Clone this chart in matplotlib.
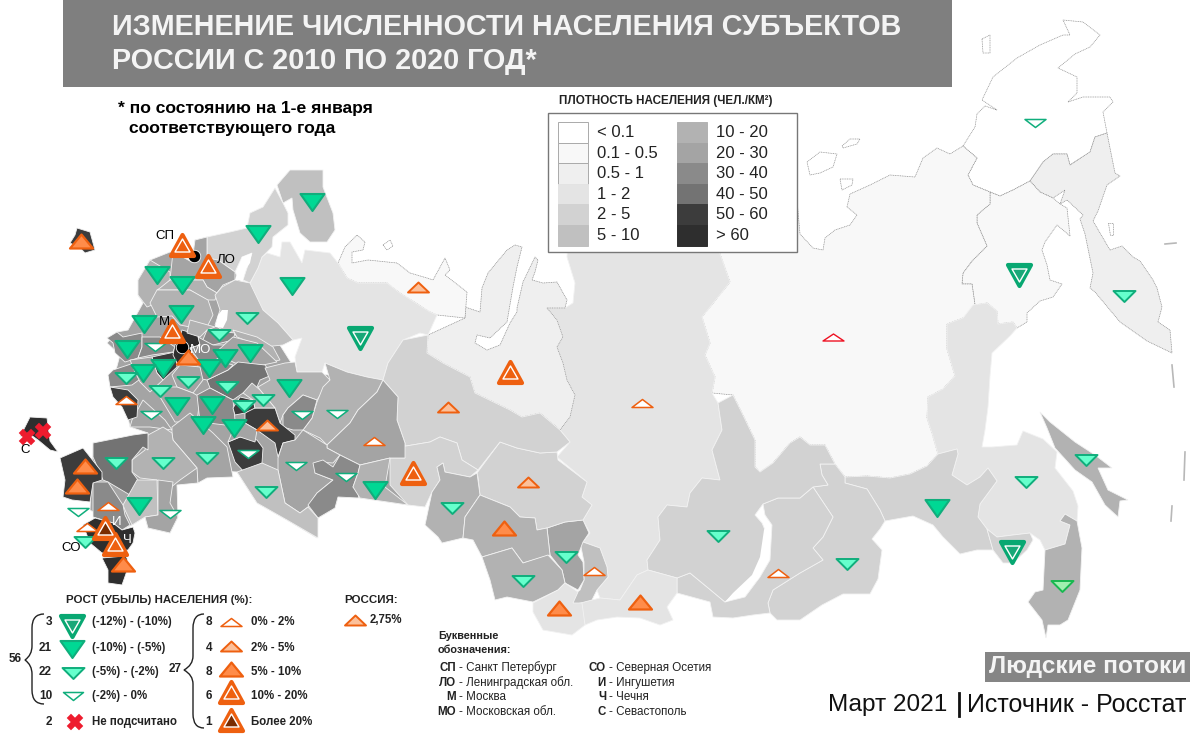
import matplotlib.pyplot as plt
from matplotlib.markers import MarkerStyle
from matplotlib.patches import Polygon, PathPatch, Rectangle
from matplotlib.path import Path

plt.rcParams['font.family'] = ['Liberation Sans', 'DejaVu Sans']

# grey for every density class, lightest to darkest
density_labels = ['< 0.1', '0.1 - 0.5', '0.5 - 1', '1 - 2', '2 - 5', '5 - 10',
                  '10 - 20', '20 - 30', '30 - 40', '40 - 50', '50 - 60', '> 60']
density_colors = ['#ffffff', '#f8f8f8', '#efefef', '#e4e4e4', '#d2d2d2', '#c0c0c0',
                  '#b2b2b2', '#a4a4a4', '#8a8a8a', '#737373', '#3c3c3c', '#2e2e2e']

chukotka = [(963,146),(975,127),(977,114),(985,106),(997,110),(982,100),(993,77),(1017,58),(1040,45),(1063,35),(1070,35),(1063,20),(1083,22),(1100,35),(1090,47),(1075,54),(1058,68),(1077,77),(1077,93),(1068,102),(1083,97),(1110,97),(1113,102),(1103,112),(1107,133),(1095,137),(1090,152),(1070,165),(1067,154),(1053,154),(1043,162),(1030,181),(1013,190),(1000,196),(990,192),(973,185),(968,175),(977,158)]
kamchatka = [(1030,181),(1043,162),(1053,154),(1067,154),(1070,165),(1090,152),(1095,137),(1107,133),(1115,173),(1120,176),(1107,185),(1098,211),(1093,221),(1110,250),(1122,246),(1133,257),(1140,261),(1153,280),(1157,288),(1162,307),(1158,322),(1170,330),(1172,353),(1147,341),(1120,322),(1095,292),(1090,288),(1093,273),(1085,234),(1080,219),(1083,215),(1067,200),(1060,204),(1065,190),(1053,198),(1040,192)]
magadan = [(990,192),(1000,196),(1013,190),(1030,181),(1040,192),(1053,198),(1060,204),(1067,208),(1070,236),(1057,225),(1045,242),(1042,250),(1047,265),(1050,280),(1062,284),(1053,297),(1040,301),(1027,313),(1027,322),(1017,328),(1013,322),(998,324),(997,311),(987,303),(975,305),(972,284),(962,284),(963,273),(972,261),(987,246),(977,223),(977,215),(990,204)]
yakutia = [(715,240),(730,282),(702,317),(710,343),(705,355),(715,377),(712,393),(733,395),(742,413),(755,440),(755,467),(760,472),(773,463),(790,443),(800,437),(810,445),(825,445),(835,464),(845,477),(867,476),(890,478),(910,474),(927,466),(938,454),(932,433),(927,418),(928,397),(943,389),(955,376),(947,349),(947,324),(963,318),(973,315),(975,305),(972,284),(962,284),(963,273),(972,261),(987,246),(977,223),(977,215),(990,204),(990,192),(973,185),(968,175),(977,158),(963,146),(950,154),(937,148),(923,158),(915,177),(890,175),(870,185),(850,194),(847,207),(857,215),(850,225),(835,230),(825,238),(823,250),(813,248),(800,234),(797,200),(715,200)]
khabarovsk = [(973,305),(987,303),(997,311),(998,324),(1013,322),(1017,328),(1010,336),(992,353),(990,376),(988,407),(985,430),(982,447),(992,447),(1017,445),(1023,431),(1043,439),(1057,452),(1055,468),(1073,491),(1078,506),(1077,521),(1065,514),(1060,521),(1070,525),(1065,544),(1045,550),(1040,540),(1030,533),(1013,535),(997,537),(987,529),(978,517),(980,504),(997,481),(988,468),(980,477),(967,485),(952,475),(958,454),(957,449),(938,454),(932,433),(927,418),(928,397),(943,389),(955,376),(947,349),(947,324),(963,318)]
amur = [(845,477),(867,476),(890,478),(910,474),(927,466),(938,454),(957,449),(958,454),(952,475),(967,485),(980,477),(988,468),(997,481),(980,504),(978,517),(987,529),(993,550),(977,550),(960,554),(943,537),(933,525),(913,516),(885,521),(880,510),(867,489),(845,483)]
evreiskaya = [(997,537),(1013,535),(1030,533),(1033,540),(1027,550),(1013,563),(1003,563),(993,550),(987,529)]
primorye = [(1065,514),(1077,521),(1082,548),(1080,590),(1068,620),(1060,625),(1048,625),(1046,638),(1042,620),(1028,602),(1035,592),(1043,590),(1045,550),(1065,544),(1070,525),(1060,521)]
sakhalin = [(1040,412),(1050,422),(1075,442),(1095,455),(1112,468),(1098,468),(1108,490),(1128,500),(1120,501),(1118,517),(1105,505),(1092,482),(1075,470),(1055,448),(1047,428)]
zabaykalsky = [(820,464),(835,464),(845,477),(845,483),(867,489),(880,510),(885,521),(880,529),(872,539),(882,550),(878,579),(870,594),(843,594),(822,605),(800,620),(777,620),(770,613),(768,603),(773,590),(800,573),(823,560),(813,548),(823,537),(833,517),(823,502),(813,487),(828,485),(822,475)]
buryatia = [(800,498),(813,487),(823,502),(833,517),(823,537),(813,548),(823,560),(800,573),(773,590),(768,603),(770,613),(753,615),(733,618),(713,617),(710,602),(677,593),(677,578),(690,573),(707,587),(725,602),(745,597),(760,577),(770,560),(772,525),(765,515),(763,504),(778,498)]
irkutsk = [(658,517),(667,505),(687,507),(690,493),(702,478),(720,480),(712,450),(722,430),(718,403),(733,395),(742,413),(755,440),(755,467),(760,472),(773,463),(790,443),(800,437),(810,445),(825,445),(835,464),(820,464),(822,475),(828,485),(813,487),(800,498),(778,498),(763,504),(755,515),(762,523),(765,530),(762,560),(753,577),(733,595),(725,602),(707,587),(690,573),(677,578),(648,570),(647,560),(660,540)]
baikal = [(768,523),(771,533),(768,557),(759,578),(742,596),(725,602),(733,593),(752,575),(760,557),(764,530)]
tuva = [(580,603),(600,598),(620,600),(637,575),(648,570),(677,578),(677,593),(667,607),(673,620),(660,625),(640,618),(617,617),(597,620),(585,625)]
krasnoyarsk = [(567,257),(575,283),(573,303),(565,308),(547,308),(557,320),(563,337),(557,347),(563,363),(567,380),(575,395),(570,417),(560,430),(570,442),(557,457),(587,482),(582,497),(592,505),(583,520),(590,533),(583,542),(600,548),(607,567),(608,577),(597,590),(600,598),(620,600),(637,575),(648,570),(647,560),(660,540),(658,517),(667,505),(687,507),(690,493),(702,478),(720,480),(712,450),(722,430),(718,403),(712,393),(715,377),(705,355),(710,343),(702,317),(730,282),(715,240),(715,200),(570,200)]
khakassia = [(583,542),(600,548),(607,567),(608,577),(597,590),(592,600),(573,605),(570,598),(580,590),(584,580),(584,562),(580,542)]
kemerovo = [(547,528),(565,522),(583,520),(589,533),(583,542),(578,555),(583,562),(584,580),(578,590),(565,583),(562,570),(550,555)]
tomsk = [(477,473),(500,442),(517,448),(540,453),(557,452),(558,460),(587,482),(582,497),(592,505),(583,520),(565,522),(547,528),(537,530),(535,518),(520,517),(510,507),(480,495),(478,477)]
yamal = [(427,353),(428,335),(465,318),(465,307),(480,312),(482,288),(488,273),(507,250),(515,245),(522,247),(517,267),(513,287),(507,322),(490,338),(477,335),(475,343),(487,350),(500,345),(510,323),(517,312),(517,308),(523,282),(535,257),(538,260),(535,272),(532,280),(543,283),(557,282),(567,300),(565,308),(547,308),(557,320),(563,337),(557,347),(563,363),(567,380),(575,395),(570,417),(560,430),(540,413),(522,417),(510,410),(475,393),(470,377),(443,363)]
nenets = [(338,263),(345,247),(357,235),(365,242),(363,250),(352,252),(352,263),(368,260),(397,263),(410,273),(427,278),(433,280),(445,258),(450,270),(445,275),(467,292),(465,318),(437,315),(430,312),(400,293),(387,283),(358,283),(347,278)]
komi_arkh = [(247,293),(250,283),(258,268),(262,257),(267,253),(280,257),(282,242),(290,242),(302,263),(305,250),(330,253),(338,263),(347,278),(358,283),(387,283),(400,293),(430,312),(437,315),(428,335),(420,333),(403,340),(388,363),(383,380),(367,377),(347,372),(325,363),(322,372),(297,372),(295,357),(302,338),(293,340),(278,323),(263,310)]
khanty = [(405,458),(405,443),(397,420),(398,397),(383,380),(388,363),(403,340),(428,335),(427,353),(443,363),(470,377),(475,393),(510,410),(522,417),(540,413),(560,430),(570,442),(557,452),(540,453),(517,448),(500,442),(478,470),(462,460),(457,443),(440,437),(430,442),(400,447)]
tyumen = [(400,447),(430,442),(440,437),(457,443),(462,460),(478,470),(470,477),(445,472),(443,463),(437,467),(440,480),(432,492),(425,507),(408,505),(390,485),(390,458),(405,458)]
omsk = [(437,467),(443,463),(445,472),(470,477),(477,473),(480,495),(465,517),(463,538),(442,543),(438,537),(425,525),(432,492),(440,480)]
novosibirsk = [(465,517),(480,495),(510,507),(520,517),(535,518),(537,530),(547,528),(550,555),(523,563),(512,548),(482,557),(473,540),(463,538)]
altai_krai = [(482,557),(512,548),(523,563),(548,555),(562,570),(565,583),(558,590),(533,602),(507,597),(495,600),(490,580)]
altai_rep = [(533,603),(558,590),(565,583),(578,592),(573,603),(582,603),(585,625),(572,635),(543,630),(533,612)]
murmansk = [(277,185),(290,170),(323,170),(323,187),(333,213),(335,230),(327,242),(310,242),(300,233),(293,210),(292,198),(283,203)]
karelia = [(275,188),(283,203),(288,213),(288,225),(273,237),(272,247),(262,257),(258,268),(250,283),(243,280),(252,253),(242,257),(235,272),(218,260),(207,258),(207,237),(230,232),(247,228),(250,213),(263,207)]
ladoga = [(235,280),(242,257),(252,253),(250,263),(245,270),(243,280)]
west_base = [(150,260),(170,252),(192,262),(195,240),(207,237),(207,258),(235,272),(247,293),(297,372),(383,380),(405,458),(408,505),(360,498),(338,497),(335,508),(318,518),(317,538),(287,520),(257,503),(237,472),(200,470),(197,463),(198,483),(177,485),(178,517),(170,533),(148,528),(145,517),(132,525),(122,530),(90,510),(93,443),(148,433),(130,427),(125,403),(112,385),(120,355),(107,343),(117,332),(128,330),(143,303),(138,295),(138,280)]
leningrad = [(173,252),(192,262),(195,240),(207,237),(207,258),(218,260),(235,272),(235,280),(223,285),(217,293),(207,287),(203,280),(170,280)]
pskov = [(150,260),(170,272),(170,280),(160,290),(157,303),(147,307),(138,295),(138,280)]
novgorod = [(170,280),(203,280),(207,287),(217,293),(215,300),(207,300),(190,290),(157,290),(160,288)]
tver = [(150,303),(157,290),(190,290),(208,300),(213,315),(207,327),(190,327),(180,325),(172,316),(157,317)]
vologda = [(222,287),(235,280),(250,283),(263,310),(278,323),(293,340),(283,345),(263,347),(255,338),(235,335),(222,330),(215,325),(220,310),(215,295)]
rybinsk = [(215,327),(218,315),(222,310),(228,310),(227,320),(223,328)]
smolensk = [(107,338),(117,332),(123,337),(142,333),(142,347),(138,358),(125,362),(115,353),(113,343)]
kaluga = [(142,337),(160,337),(175,347),(173,352),(152,355),(138,358),(142,347)]
tula = [(152,357),(175,352),(177,367),(163,380),(157,373),(153,363)]
moscow_obl = [(182,330),(198,335),(200,345),(190,348),(198,363),(177,363),(173,355),(175,345),(180,337)]
yaroslavl = [(190,320),(215,327),(207,330),(200,337),(187,333)]
ivanovo = [(207,330),(235,333),(233,340),(213,345),(202,342)]
vladimir = [(198,337),(213,345),(225,345),(233,350),(215,360),(200,362),(190,348),(200,345)]
kostroma = [(233,330),(257,337),(273,347),(280,360),(267,363),(257,345),(237,337)]
nizhny = [(233,337),(257,343),(277,362),(263,365),(235,363),(215,353)]
penza = [(207,380),(228,370),(238,362),(265,365),(272,375),(260,380),(257,387),(243,393),(233,400),(210,388)]
ryazan = [(200,362),(215,360),(233,365),(228,370),(207,380),(197,378),(198,365)]
lipetsk = [(172,375),(180,365),(200,367),(203,380),(193,393),(177,387)]
bryansk = [(113,370),(137,362),(143,377),(132,385),(110,387),(108,375)]
orel = [(130,360),(152,357),(157,373),(163,380),(150,392),(140,382),(135,372)]
voronezh = [(160,387),(177,387),(193,393),(200,397),(197,422),(175,422),(160,397)]
tambov = [(197,395),(210,388),(233,400),(235,420),(225,425),(200,422)]
kursk = [(143,400),(165,420),(172,430),(150,427),(130,427),(132,420)]
belgorod = [(110,387),(128,390),(138,400),(137,417),(128,420),(122,407),(113,397)]
kirov = [(270,380),(265,368),(285,363),(295,362),(297,372),(322,372),(330,380),(317,400),(303,395),(288,408),(283,415),(280,423),(275,408),(260,390),(258,387)]
perm = [(325,363),(347,372),(367,377),(383,380),(377,392),(358,410),(350,423),(327,445),(320,438),(303,430),(312,418),(317,402),(323,387),(330,380)]
sverdlovsk = [(383,380),(398,397),(397,420),(405,443),(405,458),(390,458),(360,465),(340,455),(327,448),(327,445),(350,423),(358,410),(377,392)]
udmurtia = [(288,408),(303,395),(317,400),(312,418),(303,430),(293,430),(283,427),(283,415)]
tatarstan = [(245,413),(253,408),(275,408),(280,423),(295,435),(295,440),(283,443),(278,457),(275,443),(257,430),(245,423)]
chuvashia = [(240,397),(253,400),(255,408),(245,413),(235,415),(233,408)]
mari = [(243,393),(252,383),(260,390),(275,408),(255,408),(253,400)]
samara = [(228,442),(240,437),(257,440),(263,448),(262,463),(245,473),(235,462)]
ulyanovsk = [(233,430),(245,423),(257,430),(255,442),(240,437),(228,442)]
bashkiria = [(278,458),(283,443),(295,440),(303,430),(327,445),(327,448),(340,455),(333,463),(317,462),(315,473),(333,480),(317,493),(308,507),(300,513),(285,503),(278,470)]
orenburg = [(313,463),(323,460),(333,467),(340,455),(360,465),(358,473),(353,487),(360,493),(358,498),(338,497),(335,508),(318,518),(308,505),(317,493),(333,480),(315,473)]
chelyabinsk = [(360,465),(390,458),(385,487),(408,505),(360,498),(353,487),(358,473)]
south_volga = [(237,472),(262,463),(278,470),(285,503),(300,513),(308,507),(318,518),(318,538),(287,520),(257,503)]
saratov = [(172,427),(190,413),(213,433),(227,447),(233,477),(207,478),(198,483),(197,468),(173,440),(172,433)]
volgograd = [(132,460),(145,450),(148,435),(163,427),(172,433),(173,440),(197,468),(180,480),(170,488),(157,480),(140,478),(132,472)]
rostov = [(93,443),(133,435),(148,433),(148,450),(143,447),(132,460),(132,472),(138,480),(142,487),(130,495),(108,482),(103,480),(93,457)]
kalmykia = [(123,505),(137,480),(157,480),(158,515),(145,517),(132,525),(125,510)]
astrakhan = [(158,480),(173,482),(170,503),(178,517),(170,533),(148,528),(145,517),(158,515)]
stavropol = [(93,482),(108,482),(123,505),(125,515),(130,525),(122,530),(113,523),(93,517)]
krasnodar = [(60,458),(83,448),(102,472),(102,480),(93,483),(90,502),(72,500),(63,497),(65,480)]
caucasus = [(83,525),(95,518),(113,523),(122,530),(133,527),(135,533),(133,543),(128,550),(102,553),(90,543)]
dagestan = [(102,558),(125,556),(127,558),(128,568),(122,585),(108,583),(108,570)]
crimea = [(30,417),(47,418),(50,441),(58,452),(50,450),(38,440),(28,433),(20,437)]
kaliningrad = [(77,228),(90,232),(95,250),(85,253),(80,248),(70,243),(75,235)]
new_siberian = [[(807,162),(820,152),(837,154),(833,167),(820,173),(810,175)],[(842,146),(850,139),(860,139),(857,144),(843,148)],[(840,179),(853,179),(852,185),(842,190)],[(982,39),(990,35),(990,53),(983,53)],[(1108,223),(1113,223),(1113,235),(1110,235)],[(383,245),(390,240),(393,246),(387,250)]]
kurils = [[(1172,365),(1174,387)],[(1185,452),(1184,480)],[(1172,506),(1171,521)],[(1165,244),(1176,243)]]

# (outline, density class) in drawing order
region_shapes = [west_base, chukotka, kamchatka, magadan, yakutia, krasnoyarsk, khabarovsk, amur, evreiskaya, primorye,
                 sakhalin, zabaykalsky, buryatia, irkutsk, tuva, khakassia, kemerovo, tomsk, yamal, nenets,
                 komi_arkh, khanty, tyumen, omsk, novosibirsk, altai_krai, altai_rep, murmansk, karelia, leningrad,
                 pskov, novgorod, tver, vologda, smolensk, kaluga, tula, moscow_obl, yaroslavl, ivanovo,
                 vladimir, kostroma, nizhny, penza, ryazan, lipetsk, bryansk, orel, voronezh, tambov,
                 kursk, belgorod, kirov, perm, sverdlovsk, udmurtia, tatarstan, chuvashia, mari, samara,
                 ulyanovsk, bashkiria, orenburg, chelyabinsk, south_volga, saratov, volgograd, rostov, kalmykia, astrakhan,
                 stavropol, krasnodar, caucasus, dagestan, crimea, kaliningrad]
region_classes = [7, 0, 2, 1, 1, 3, 3, 4, 4, 6,
                  6, 4, 4, 4, 3, 5, 7, 4, 2, 1,
                  3, 4, 4, 6, 6, 6, 3, 5, 4, 7,
                  6, 6, 6, 5, 8, 8, 10, 11, 6, 8,
                  8, 6, 7, 9, 8, 7, 8, 7, 7, 8,
                  7, 10, 6, 6, 7, 8, 10, 10, 6, 10,
                  7, 7, 8, 6, 5, 7, 6, 9, 5, 7,
                  8, 10, 11, 11, 11, 10]

# marker positions by change class
green_big_x = [360, 1019, 1012]
green_big_y = [338, 275, 552]
green_mid_x = [312, 258, 292, 157, 182, 181, 144, 127, 225, 250, 163, 143, 209, 289, 177, 212, 203, 234, 139, 375, 937]
green_mid_y = [202, 234, 286, 275, 285, 314, 324, 349, 358, 353, 368, 373, 368, 388, 406, 405, 425, 428, 506, 490, 508]
green_light_x = [247, 219, 126, 188, 227, 160, 244, 263, 116, 163, 207, 266, 847, 1026, 1086, 1124, 718, 452, 566, 523, 85]
green_light_y = [318, 335, 378, 382, 387, 391, 406, 400, 463, 463, 458, 492, 564, 482, 460, 296, 536, 508, 557, 581, 542]
green_pale_x = [1062]
green_pale_y = [586]
green_white_x = [155, 151, 302, 337, 248, 296, 346, 170, 78, 1035]
green_white_y = [347, 415, 415, 414, 454, 466, 477, 514, 512, 123]
orange_white_x = [126, 108, 87, 374, 642, 594, 778]
orange_white_y = [400, 506, 527, 441, 403, 571, 573]
red_white_x = [833]
red_white_y = [337]
orange_light_x = [418, 448, 528, 267]
orange_light_y = [287, 407, 482, 425]
orange_mid_x = [81, 188, 85, 77, 123, 504, 559, 640]
orange_mid_y = [241, 357, 466, 486, 564, 528, 608, 602]
orange_big_x = [182, 208, 172, 115, 413, 510]
orange_big_y = [245, 266, 331, 544, 473, 372]
orange_top_x = [105]
orange_top_y = [528]
missing_x = [27, 43]
missing_y = [437, 431]
city_x = [194, 182]
city_y = [256, 347]

change_counts = ['3', '21', '22', '10', '2']
change_labels = ['(-12%) - (-10%)', '(-10%) - (-5%)', '(-5%) - (-2%)', '(-2%) - 0%', 'Не подсчитано']
growth_counts = ['8', '4', '8', '6', '1']
growth_labels = ['0% - 2%', '2% - 5%', '5% - 10%', '10% - 20%', 'Более 20%']
abbr_left = [('СП', 'Санкт Петербург'), ('ЛО', 'Ленинградская обл.'), ('М', 'Москва'), ('МО', 'Московская обл.')]
abbr_right = [('СО', 'Северная Осетия'), ('И', 'Ингушетия'), ('Ч', 'Чечня'), ('С', 'Севастополь')]

ORANGE = '#ee6010'
GREEN = '#10ae7c'


def triangle(ratio, up):
    sign = 1 if up else -1
    return Path([(-1, -sign * ratio), (1, -sign * ratio), (0, sign * ratio), (-1, -sign * ratio)], closed=True)


def draw_triangles(ax, x, y, width, height, face, edge, lw, up, z=5):
    # width in picture pixels, markersize in points at dpi 100
    marker = MarkerStyle(triangle(height / width, up), joinstyle='round')
    ax.plot(x, y, ls='none', marker=marker, ms=width * 0.72, mfc=face, mec=edge, mew=lw, zorder=z)


def draw_big(ax, x, y, edge, inner, up, scale=1.0):
    draw_triangles(ax, x, y, 23 * scale, 21 * scale, edge, edge, 3.0, up)
    draw_triangles(ax, x, y, 15 * scale, 13 * scale, inner, 'white', 1.0, up, z=6)


def draw_change_marks(ax):
    draw_big(ax, green_big_x, green_big_y, '#08a872', '#18a878', False)
    draw_triangles(ax, green_mid_x, green_mid_y, 24, 17, '#00d894', GREEN, 1.5, False)
    draw_triangles(ax, green_light_x, green_light_y, 22, 11, '#66ffcc', GREEN, 1.4, False)
    draw_triangles(ax, green_pale_x, green_pale_y, 22, 11, '#a0f0b0', '#18b850', 1.4, False)
    draw_triangles(ax, green_white_x, green_white_y, 21, 8, 'white', GREEN, 1.1, False)
    draw_triangles(ax, orange_white_x, orange_white_y, 21, 8, 'white', ORANGE, 1.1, True)
    draw_triangles(ax, red_white_x, red_white_y, 21, 7, 'white', '#ee1122', 1.0, True)
    draw_triangles(ax, orange_light_x, orange_light_y, 21, 10, '#fcc09a', ORANGE, 1.4, True)
    draw_triangles(ax, orange_mid_x, orange_mid_y, 23, 14, '#ff8c4a', ORANGE, 1.6, True)
    draw_big(ax, orange_big_x, orange_big_y, ORANGE, ORANGE, True)
    draw_big(ax, orange_top_x, orange_top_y, ORANGE, '#7a2c00', True)
    ax.plot(missing_x, missing_y, ls='none', marker='X', ms=11, mfc='#ee1c2e', mec='#ee1c2e', mew=0.3, zorder=6)


def draw_brace(ax, top, bottom, spine, tip):
    mid = tip[1]
    verts = [top, (spine, top[1]), (spine, top[1] + 14), (spine, mid - 14), (spine, mid - 5), tip,
             (spine, mid + 5), (spine, mid + 14), (spine, bottom[1] - 14), (spine, bottom[1]), bottom]
    codes = [Path.MOVETO, Path.CURVE3, Path.CURVE3, Path.LINETO, Path.CURVE3, Path.CURVE3,
             Path.CURVE3, Path.CURVE3, Path.LINETO, Path.CURVE3, Path.CURVE3]
    ax.add_patch(PathPatch(Path(verts, codes), fc='none', ec='#222222', lw=1.0, zorder=5))


fig = plt.figure(figsize=(12, 7.42), dpi=100)
ax = fig.add_axes([0, 0, 1, 1])
ax.set_xlim(0, 1200)
ax.set_ylim(742, 0)
ax.axis('off')

# map
for shape, cls in zip(region_shapes, region_classes):
    if cls <= 2:
        ax.add_patch(Polygon(shape, fc=density_colors[cls], ec='#8c8c8c', lw=0.5, ls=(0, (1.5, 1)), zorder=2))
    else:
        ax.add_patch(Polygon(shape, fc=density_colors[cls], ec='#f2f2f2', lw=0.6, zorder=2))
for shape in [baikal, ladoga, rybinsk]:
    ax.add_patch(Polygon(shape, fc='white', ec='none', zorder=3))
for shape in new_siberian:
    ax.add_patch(Polygon(shape, fc='white', ec='#8c8c8c', lw=0.5, ls=(0, (1.5, 1)), zorder=2))
for seg in kurils:
    ax.plot(*zip(*seg), color='#b8b8b8', lw=1.2, zorder=2)

ax.plot(city_x, city_y, ls='none', marker='o', ms=9, mfc='black', mec='white', mew=0.6, zorder=4)
draw_change_marks(ax)

# title block
ax.add_patch(Rectangle((63, 0), 889, 87, fc='#7f7f7f', ec='none', zorder=7))
ax.text(112, 27, 'ИЗМЕНЕНИЕ ЧИСЛЕННОСТИ НАСЕЛЕНИЯ СУБЪЕКТОВ', fontsize=20.7, weight='bold', color='#f4f4f4', va='center', zorder=8)
ax.text(112, 61, 'РОССИИ С 2010 ПО 2020 ГОД*', fontsize=20.7, weight='bold', color='#f4f4f4', va='center', zorder=8)
ax.text(118, 108, '* по состоянию на 1-е января', fontsize=12.6, weight='bold', va='center')
ax.text(129, 128, 'соответствующего года', fontsize=12.6, weight='bold', va='center')

# density legend
ax.text(559, 101, 'ПЛОТНОСТЬ НАСЕЛЕНИЯ (ЧЕЛ./КМ²)', fontsize=8.4, weight='bold', va='center', color='#222222', zorder=8)
ax.add_patch(Rectangle((547.5, 113), 249, 139, fc='white', ec='#777777', lw=1.0, zorder=7))
for i, (label, color) in enumerate(zip(density_labels, density_colors)):
    col, row = i // 6, i % 6
    x0 = 558 + col * 119
    y0 = 122 + row * 20.6
    edge = '#aaaaaa' if i < 3 else color
    ax.add_patch(Rectangle((x0, y0), 30, 20.6, fc=color, ec=edge, lw=0.7, zorder=8))
    ax.text(x0 + 39, y0 + 10.5, label, fontsize=12, va='center', color='#222222', zorder=8)

# change legend
ax.text(66, 600, 'РОСТ (УБЫЛЬ) НАСЕЛЕНИЯ (%):', fontsize=8.25, weight='bold', va='center', color='#222222')
row_y = [622, 648, 672, 696, 722]
for cnt, lab, y in zip(change_counts, change_labels, row_y):
    ax.text(52, y, cnt, fontsize=8.5, weight='bold', ha='right', va='center', color='#222222')
    ax.text(92, y, lab, fontsize=8.3, weight='bold', va='center', color='#222222')
draw_big(ax, [72], [626], '#08a872', '#18a878', False)
draw_triangles(ax, [72], [649], 24, 17, '#00d894', GREEN, 1.5, False)
draw_triangles(ax, [73], [673], 22, 11, '#66ffcc', GREEN, 1.4, False)
draw_triangles(ax, [73], [696], 20, 8, 'white', GREEN, 1.1, False)
ax.plot([75], [722], ls='none', marker='X', ms=11, mfc='#ee1c2e', mec='#ee1c2e', mew=0.3, zorder=6)
ax.text(22, 659, '56', fontsize=8.5, weight='bold', ha='right', va='center', color='#222222')
draw_brace(ax, (44, 614), (44, 704), 32, (25, 660))

for cnt, lab, y in zip(growth_counts, growth_labels, row_y):
    ax.text(212, y, cnt, fontsize=8.5, weight='bold', ha='right', va='center', color='#222222')
    ax.text(251, y, lab, fontsize=8.3, weight='bold', va='center', color='#222222')
draw_triangles(ax, [231], [622], 21, 8, 'white', ORANGE, 1.1, True)
draw_triangles(ax, [231], [646], 21, 10, '#fcc09a', ORANGE, 1.4, True)
draw_triangles(ax, [231], [669], 23, 14, '#ff8c4a', ORANGE, 1.6, True)
draw_big(ax, [231], [692], ORANGE, ORANGE, True)
draw_big(ax, [231], [720], ORANGE, '#7a2c00', True)
ax.text(182, 669, '27', fontsize=8.5, weight='bold', ha='right', va='center', color='#222222')
draw_brace(ax, (204, 614), (204, 728), 193, (184, 670))

ax.text(344, 600, 'РОССИЯ:', fontsize=8.25, weight='bold', va='center', color='#222222')
draw_triangles(ax, [355], [620], 21, 10, '#fcc09a', ORANGE, 1.4, True)
ax.text(370, 620, '2,75%', fontsize=8.3, weight='bold', va='center', color='#222222')

# letter codes on the map
for txt, x, y, col in [('СП', 165, 236, 'black'), ('ЛО', 226, 260, 'black'), ('М', 164, 322, 'black'),
                       ('МО', 201, 350, 'white'), ('И', 117, 522, 'white'), ('Ч', 127, 540, 'white'),
                       ('СО', 71, 548, 'black'), ('С', 25, 450, 'black')]:
    ax.text(x, y, txt, fontsize=9.5, ha='center', va='center', color=col, zorder=9)

# letter code key
ax.text(438, 636, 'Буквенные', fontsize=7.8, weight='bold', va='center', color='#222222')
ax.text(438, 650, 'обозначения:', fontsize=7.8, weight='bold', va='center', color='#222222')
for i, ((a, name_a), (b, name_b)) in enumerate(zip(abbr_left, abbr_right)):
    y = 668 + i * 14.7
    ax.text(456, y, a, fontsize=8.3, weight='bold', ha='right', va='center', color='#222222')
    ax.text(459, y, '- ' + name_a, fontsize=8.4, va='center', color='#222222')
    ax.text(606, y, b, fontsize=8.3, weight='bold', ha='right', va='center', color='#222222')
    ax.text(609, y, '- ' + name_b, fontsize=8.4, va='center', color='#222222')

# credits
ax.add_patch(Rectangle((985, 652), 205, 30, fc='#858585', ec='none', zorder=7))
ax.text(1087.5, 667, 'Людские потоки', fontsize=17.6, weight='bold', color='#f4f4f4', ha='center', va='center', zorder=8)
ax.text(828, 705, 'Март 2021', fontsize=17.6, va='center', color='#111111')
ax.plot([959, 959], [693, 716], color='#111111', lw=2)
ax.text(967, 705, 'Источник - Росстат', fontsize=18, va='center', color='#111111')

fig.savefig('out.png', dpi=100)
